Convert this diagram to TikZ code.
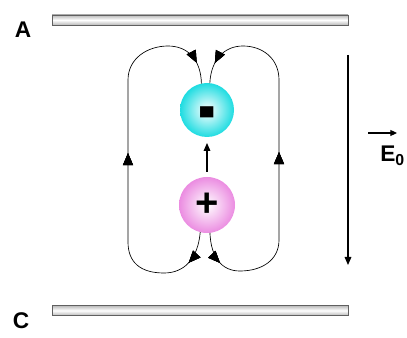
\documentclass[tikz,border=0pt]{standalone}
\usepackage{fontspec}
\setmainfont{Liberation Sans}
\usepackage{graphicx}
\usepackage{xcolor}
\usepackage{tikz}
\usetikzlibrary{arrows.meta, positioning, decorations.markings, shadings}
\definecolor{negcol}{RGB}{30,220,225}
\definecolor{poscol}{RGB}{235,140,225}
\tikzset{
    plate/.style={
        rectangle,
        draw=gray!75!black,
        top color=gray!55,
        bottom color=gray!55,
        middle color=white,
        minimum width=222pt,
        minimum height=7.5pt,
        inner sep=0pt
    },
    negball/.style={
        circle,
        shading=radial,
        inner color=white,
        outer color=negcol,
        minimum size=40.5pt,
        inner sep=0pt,
        outer sep=0pt,
        font=\bfseries\fontsize{28}{28}\selectfont
    },
    posball/.style={
        circle,
        shading=radial,
        inner color=white,
        outer color=poscol,
        minimum size=42pt,
        inner sep=0pt,
        outer sep=0pt,
        font=\bfseries\fontsize{30}{30}\selectfont
    },
    lbl/.style={
        font=\bfseries\fontsize{17}{17}\selectfont,
        inner sep=0pt
    },
    fieldline/.style={
        draw=black,
        line width=0.5pt,
        decoration={markings,
            mark=at position #1 with {\arrow{Triangle[length=9pt,width=7.5pt]}}},
        postaction={decorate}
    },
    dipole/.style={
        draw=black,
        line width=0.8pt,
        -{Triangle[length=6pt,width=5pt]}
    },
    efield/.style={
        draw=black,
        line width=0.8pt,
        -{Triangle[length=6pt,width=5pt]}
    }
}

\begin{document}
\begin{tikzpicture}[x=0.75pt, y=-0.75pt]
\useasboundingbox (0,0) rectangle (407,338);

% Plates
\node[plate] (plateA) at (200,20) {};
\node[plate] (plateC) at (200,310.5) {};
\node[lbl] (lblA) at (23,30) {A};
\node[lbl] (lblC) at (21,321) {C};

% Charges
\node[negball] (neg) at (207,110) {\raisebox{-20pt}[0pt][0pt]{\scalebox{1.4}[2.5]{-}}};
\node[posball] (pos) at (207,205) {+};

% Dipole arrow
\draw[dipole, shorten <=4pt, shorten >=4.5pt] (pos) -- (neg);

% Field lines, left and right
\draw[fieldline/.list={0.085,0.52,0.945}] (pos.-104) .. controls (198,258) and (185,273) .. (164,273)
    .. controls (140,273) and (128,262) .. (128,242) -- (128,80)
    .. controls (128,58) and (148,46) .. (168,46)
    .. controls (188,46) and (201,60) .. (neg.102);
\draw[fieldline/.list={0.085,0.52,0.945}] (pos.-84) .. controls (211,258) and (222,271) .. (240,271)
    .. controls (262,271) and (279,260) .. (279,240) -- (279,80)
    .. controls (279,58) and (262,46) .. (243,46)
    .. controls (224,46) and (211,60) .. (neg.84);

% External field
\coordinate (etop) at (348,55);
\coordinate (ebot) at (348,265);
\draw[efield] (etop) -- (ebot);
\node[lbl, anchor=north west] (lblE) at (380,146) {E\textsubscript{0}};
\draw[line width=0.8pt, -{Triangle[length=5pt,width=4.5pt]}] ([shift={(-12,-13)}]lblE.north west) -- ++(29,0);

\end{tikzpicture}
\end{document}
